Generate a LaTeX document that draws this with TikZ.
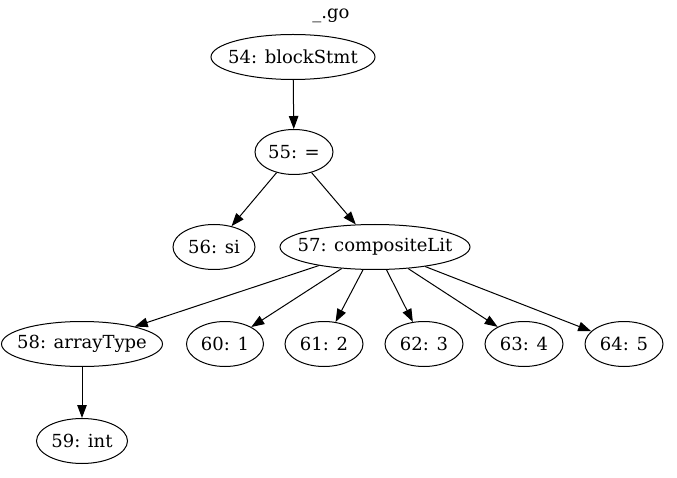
\documentclass[tikz,border=0pt]{standalone}
\usepackage{fontspec}
\setmainfont{DejaVu Serif}
\usetikzlibrary{shapes.geometric,arrows.meta}
\begin{document}
\begin{tikzpicture}[x=1pt,y=-1pt,
  nd/.style={draw,ellipse,line width=1pt,inner sep=0pt,minimum height=45pt,label={[font=\fontsize{18}{20}\selectfont,inner sep=0pt]center:#1}},
  ed/.style={draw,line width=1pt,-{Triangle[length=13pt,width=9.5pt]}}]
\useasboundingbox (0,0) rectangle (677,478);
\node[font=\fontsize{18}{20}\selectfont] (title) at (331,16) {\_.go};
\node[nd={54: blockStmt},minimum width=164pt] (n54) at (293,57) {};
\node[nd={55: =},minimum width=78pt] (n55) at (294,152) {};
\node[nd={56: si},minimum width=82pt] (n56) at (214,247) {};
\node[nd={57: compositeLit},minimum width=190pt] (n57) at (375,247) {};
\node[nd={58: arrayType},minimum width=161pt] (n58) at (82,344) {};
\node[nd={60: 1},minimum width=77pt] (n60) at (225,344) {};
\node[nd={61: 2},minimum width=78pt] (n61) at (324,344) {};
\node[nd={62: 3},minimum width=78pt] (n62) at (424,344) {};
\node[nd={63: 4},minimum width=78pt] (n63) at (524,344) {};
\node[nd={64: 5},minimum width=78pt] (n64) at (624,344) {};
\node[nd={59: int},minimum width=91pt] (n59) at (82,441) {};
\draw[ed] (n54) -- (n55);
\draw[ed] (n55) -- (n56);
\draw[ed] (n55) -- (n57);
\draw[ed] (n57) -- (n58);
\draw[ed] (n57) -- (n60);
\draw[ed] (n57) -- (n61);
\draw[ed] (n57) -- (n62);
\draw[ed] (n57) -- (n63);
\draw[ed] (n57) -- (n64);
\draw[ed] (n58) -- (n59);
\end{tikzpicture}
\end{document}
